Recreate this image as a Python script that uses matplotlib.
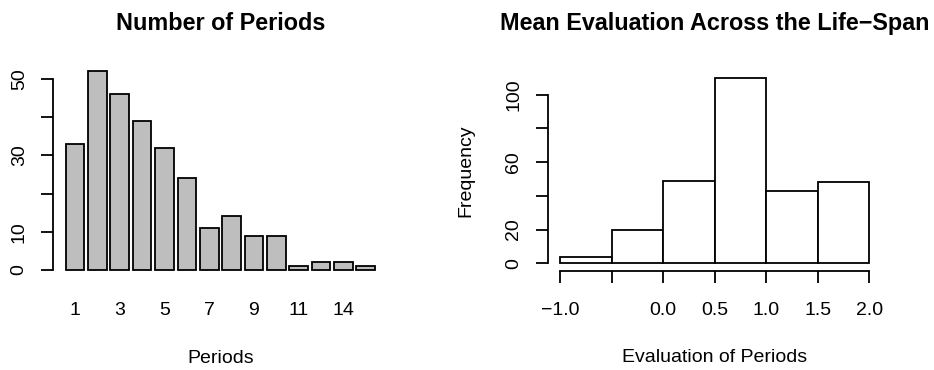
import numpy as np
import matplotlib
matplotlib.use("Agg")
import matplotlib.pyplot as plt

plt.rcParams["font.family"] = ["Liberation Sans", "DejaVu Sans"]

# number of periods per person (barplot of counts)
period_names = ["1", "2", "3", "4", "5", "6", "7", "8", "9", "10", "11", "12", "14", "15"]
period_counts = [33, 52, 46, 39, 32, 24, 11, 14, 9, 9, 1, 2, 2, 1]

# mean evaluation histogram
eval_breaks = [-1.0, -0.5, 0.0, 0.5, 1.0, 1.5, 2.0]
eval_counts = [4, 20, 49, 110, 43, 48]

W, H = 934, 370
fig = plt.figure(figsize=(W / 100, H / 100), dpi=100)


def px_axes(x0, x1, y0, y1):
    # y0/y1 are pixel rows from the top
    return fig.add_axes([x0 / W, (H - y1) / H, (x1 - x0) / W, (y1 - y0) / H])


LW = 1.3
TICK_FS = 14
TITLE_FS = 16.8

# ---- left: barplot
ax1 = px_axes(53.3, 387.5, 63.4, 277.9)
n = len(period_counts)
centers = 0.7 + 1.2 * np.arange(n)
ax1.bar(centers, period_counts, width=1.0, color="#BEBEBE",
        edgecolor="black", linewidth=LW)
ax1.set_xlim(-0.464, 17.464)
ax1.set_ylim(-2.08, 54.08)
for s in ["top", "right", "bottom"]:
    ax1.spines[s].set_visible(False)
ax1.spines["left"].set_bounds(0, 50)
ax1.spines["left"].set_linewidth(LW)
yt = [0, 10, 20, 30, 40, 50]
ax1.set_yticks(yt)
ax1.set_yticklabels([str(v) if v in (0, 10, 30, 50) else "" for v in yt],
                    rotation=90, va="center")
ax1.tick_params(axis="y", length=8.4, width=LW, pad=10, labelsize=TICK_FS)
ax1.set_xticks(centers)
ax1.set_xticklabels([nm if i % 2 == 0 else "" for i, nm in enumerate(period_names)])
ax1.tick_params(axis="x", length=0, pad=17.5, labelsize=TICK_FS)
ax1.set_xlabel("Periods", fontsize=TICK_FS)
ax1.xaxis.set_label_coords(0.5, -0.338)
ax1.set_title("Number of Periods", fontsize=TITLE_FS, fontweight="bold", pad=24)

# ---- right: histogram
ax2 = px_axes(547.7, 881.7, 70.4, 270.7)
edges = np.array(eval_breaks)
ax2.bar(edges[:-1], eval_counts, width=np.diff(edges), align="edge",
        color="white", edgecolor="black", linewidth=LW)
ax2.set_xlim(-1.12, 2.12)
ax2.set_ylim(-4.4, 114.4)
for s in ["top", "right"]:
    ax2.spines[s].set_visible(False)
ax2.spines["left"].set_bounds(0, 100)
ax2.spines["bottom"].set_bounds(-1, 2)
ax2.spines["left"].set_linewidth(LW)
ax2.spines["bottom"].set_linewidth(LW)
yt2 = [0, 20, 40, 60, 80, 100]
ax2.set_yticks(yt2)
ax2.set_yticklabels([str(v) if v in (0, 20, 60, 100) else "" for v in yt2],
                    rotation=90, va="center")
ax2.set_xticks(edges)
ax2.set_xticklabels(["\u22121.0", "", "0.0", "0.5", "1.0", "1.5", "2.0"])
ax2.tick_params(axis="both", length=8.4, width=LW, labelsize=TICK_FS)
ax2.tick_params(axis="y", pad=10)
ax2.tick_params(axis="x", pad=14)
ax2.set_xlabel("Evaluation of Periods", fontsize=TICK_FS)
ax2.xaxis.set_label_coords(0.5, -0.393)
fig.text(466 / W, 1 - 170.5 / H, "Frequency", rotation=90,
         ha="center", va="center", fontsize=TICK_FS)
ax2.set_title("Mean Evaluation Across the Life\u2212Span", fontsize=TITLE_FS,
              fontweight="bold", pad=29)

fig.savefig("out.png", dpi=100)
